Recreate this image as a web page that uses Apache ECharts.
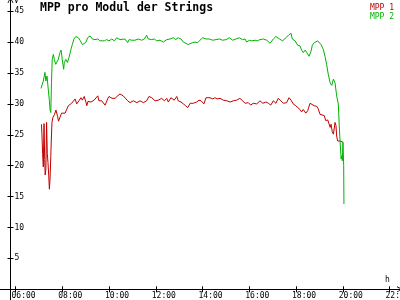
<!DOCTYPE html>
<html><head><meta charset="utf-8">
<script src="https://cdn.jsdelivr.net/npm/echarts@6/dist/echarts.min.js"></script>
<style>html,body{margin:0;padding:0;background:#fff}#c{width:400px;height:300px}</style>
</head><body><div id="c"></div>
<script>
const titleText = 'MPP pro Modul der Strings';
const seriesNames = ['MPP 1', 'MPP 2'];
const xTickHours = [6, 8, 10, 12, 14, 16, 18, 20, 22];
const yTickValues = [5, 10, 15, 20, 25, 30, 35, 40, 45];
const yUnit = 'V';
const xUnit = 'h';

// time in decimal hours
const timesMPP1 = [7.11,7.13,7.16,7.19,7.22,7.25,7.27,7.30,7.33,7.36,7.39,7.42,7.45,7.48,7.51,7.53,7.56,7.60,7.67,7.73,7.80,7.84,7.90,7.97,8.04,8.12,8.19,8.26,8.33,8.40,8.47,8.55,8.62,8.67,8.73,8.80,8.86,8.94,9.02,9.05,9.10,9.16,9.23,9.29,9.36,9.42,9.52,9.57,9.62,9.69,9.76,9.83,9.89,9.94,10.00,10.06,10.13,10.18,10.26,10.37,10.47,
10.61,10.68,10.80,10.90,11.04,11.19,11.33,11.47,11.61,11.71,11.83,11.90,11.97,12.11,12.25,12.37,12.47,12.54,12.65,12.79,12.90,12.96,13.08,13.18,13.28,13.37,13.47,13.61,13.75,13.85,13.94,
14.01,14.06,14.15,14.21,14.32,14.44,14.53,14.63,14.75,14.89,15.04,15.18,15.32,15.46,15.60,15.72,15.82,15.96,16.06,16.17,16.32,16.46,16.58,16.72,16.82,16.92,17.03,17.14,17.24,17.35,17.46,
17.53,17.60,17.70,17.79,17.88,17.99,18.07,18.17,18.24,18.31,18.42,18.50,18.60,18.67,18.78,18.89,18.95,19.03,19.10,19.21,19.27,19.36,19.41,19.46,19.50,19.55,19.60,19.67,19.71,19.74,19.78,19.84,19.88,19.96,20.01];
const mpp1 = [26.7,25.2,22.0,19.8,26.8,21.0,18.5,19.5,27.0,22.0,20.5,18.5,16.2,18.0,21.5,24.0,27.0,27.8,28.3,29.0,28.0,27.2,27.8,28.5,28.6,28.5,28.4,29.7,29.9,30.1,30.3,30.8,30.0,30.3,30.6,31.0,30.6,31.2,30.2,29.7,30.4,30.5,30.3,30.1,30.6,30.3,31.3,30.5,30.2,30.5,30.6,29.8,30.3,30.8,31.2,31.2,30.9,31.0,30.9,31.3,31.6,
31.3,31.0,30.5,30.2,30.5,30.2,30.5,30.2,30.5,31.2,31.0,31.3,30.5,30.6,30.9,30.5,30.9,30.3,31.0,30.6,31.2,30.5,30.3,30.0,29.7,29.4,30.1,30.1,30.3,30.6,30.5,
30.5,30.0,31.0,31.3,31.0,30.8,31.0,30.8,30.9,30.6,30.5,30.3,30.5,30.6,30.9,30.5,30.1,30.2,29.8,30.1,30.0,30.5,30.1,30.3,30.1,29.8,30.5,30.1,30.9,30.5,30.1,
30.1,30.2,31.0,30.6,30.0,29.7,29.4,29.1,28.7,29.1,28.5,28.9,30.1,29.8,29.7,29.6,29.2,28.3,28.0,28.1,27.3,27.4,27.3,26.2,26.7,25.5,25.1,27.0,26.5,24.8,24.0,24.3,24.0,23.9,23.8];

const timesMPP2 = [7.09,7.19,7.26,7.30,7.35,7.38,7.45,7.48,7.51,7.54,7.57,7.62,7.66,7.72,7.76,7.83,7.90,7.95,8.00,8.06,8.09,8.15,8.22,8.29,8.37,8.43,8.50,8.58,8.69,8.76,8.86,8.93,9.00,9.09,9.19,9.29,9.40,9.52,9.62,9.69,9.80,9.90,10.00,10.12,10.23,10.33,10.40,10.47,
10.68,10.80,10.86,10.97,11.11,11.25,11.40,11.51,11.61,11.68,11.83,11.94,12.04,12.18,12.32,12.47,12.61,12.75,12.85,12.96,13.08,13.18,13.25,13.39,13.47,13.56,13.68,13.79,13.89,
14.01,14.15,14.29,14.44,14.58,14.72,14.86,15.01,15.15,15.29,15.43,15.57,15.72,15.82,15.89,16.00,16.10,16.25,16.34,16.46,16.60,16.75,16.89,17.03,17.14,17.29,17.43,17.57,
17.70,17.79,17.84,17.96,18.07,18.17,18.24,18.31,18.39,18.46,18.56,18.64,18.70,18.78,18.84,18.93,18.98,19.07,19.17,19.24,19.31,19.38,19.46,19.53,19.60,19.67,19.74,19.81,19.85,19.88,19.93,19.96,19.98,20.01,20.04,20.05];
const mpp2 = [32.5,33.7,35.1,33.7,34.5,33.2,30.5,29.0,28.6,33.5,37.2,38.0,37.2,36.4,36.1,37.2,38.3,38.7,37.2,35.6,36.7,37.2,36.7,37.5,38.8,39.6,40.5,40.9,40.7,40.3,39.6,39.3,39.9,40.7,41.0,40.5,40.4,40.5,40.2,40.5,40.2,40.4,40.2,40.5,40.2,40.7,41.0,40.4,
40.5,39.9,40.4,40.3,40.3,40.5,40.3,40.5,41.1,40.5,40.4,40.5,40.2,40.3,40.0,40.4,40.5,40.7,40.4,40.7,40.5,40.0,39.9,39.6,39.4,39.9,40.0,39.9,40.3,
40.7,40.5,40.5,40.3,40.4,40.5,40.3,40.4,40.7,40.3,40.5,40.7,40.4,40.5,40.0,40.3,40.2,40.3,40.2,40.4,40.5,40.3,39.8,40.5,40.9,40.5,40.2,40.7,
41.2,41.4,40.5,40.2,39.5,39.4,38.7,38.3,38.7,38.3,37.7,38.5,39.5,39.9,39.6,40.2,40.3,39.6,38.8,37.7,36.4,34.8,33.4,33.0,34.0,33.4,31.3,30.0,26.5,24.3,21.1,21.6,20.8,23.8,20.0,13.8];

const pairs = (t, v) => t.map((x, i) => [x, v[i]]);
const pad2 = n => (n < 10 ? '0' : '') + n;
const colors = ['#c00000', '#00b400'];
const FONT = 'DejaVu Sans Mono';

const xMin = 5.337, xMax = 22.449;
const yMin = 0, yMax = 46.81;
const labelShift = 0.171; // x labels start slightly left of tick

const chevron = 'path://M0,10 L5,0 L10,10 L8.6,10 L5,2.8 L1.4,10 Z';
const tickStyle = {color: '#000', width: 1};

const chart = echarts.init(document.getElementById('c'), null, {renderer: 'canvas'});
chart.setOption({
  animation: false,
  backgroundColor: '#ffffff',
  title: {
    text: titleText, left: 40, top: 2, padding: 0,
    textStyle: {fontFamily: FONT, fontWeight: 'bold', fontSize: 11.5, color: '#000'}
  },
  legend: {
    data: [
      {name: seriesNames[0], textStyle: {color: colors[0]}},
      {name: seriesNames[1], textStyle: {color: colors[1]}}
    ],
    orient: 'vertical', right: 6, top: 4, padding: 0, itemGap: 0,
    itemWidth: 0, itemHeight: 0, align: 'left', icon: 'rect',
    textStyle: {fontFamily: FONT, fontSize: 8, lineHeight: 8.4, padding: [0, 0, 0, -5]},
    selectedMode: false
  },
  grid: [
    {left: 0, right: 0, top: 0, bottom: 10.7, containLabel: false, outerBoundsMode: 'none'},
    {left: 0, right: 0, top: 0, bottom: 0, containLabel: false, outerBoundsMode: 'none'}
  ],
  xAxis: [{
    type: 'value', min: xMin, max: xMax, gridIndex: 0, position: 'bottom',
    axisLine: {onZero: false, symbol: ['none', chevron], symbolSize: [7, 6], lineStyle: {color: '#000', width: 1}},
    axisTick: {show: true, length: 3, customValues: xTickHours, lineStyle: tickStyle},
    axisLabel: {
      show: true, customValues: xTickHours.map(h => h - labelShift), align: 'left', margin: 3,
      fontFamily: FONT, fontSize: 8, color: '#000',
      formatter: v => pad2(Math.round(v + labelShift)) + ':00'
    },
    splitLine: {show: false}
  }, {
    type: 'value', min: xMin, max: xMax, gridIndex: 0, position: 'bottom',
    axisLine: {onZero: false, show: false},
    axisTick: {show: true, inside: true, length: 3, customValues: xTickHours, lineStyle: tickStyle},
    axisLabel: {show: false}, splitLine: {show: false}
  }, {
    type: 'value', min: xMin, max: xMax, gridIndex: 1, show: false
  }],
  yAxis: [{
    type: 'value', min: yMin, max: yMax, gridIndex: 0, position: 'left', offset: -10.5,
    axisLine: {show: true, onZero: false, symbol: ['none', chevron], symbolSize: [7, 6], lineStyle: {color: '#000', width: 1}},
    axisTick: {show: true, length: 3, customValues: yTickValues, lineStyle: tickStyle},
    axisLabel: {show: true, inside: true, margin: 4, customValues: yTickValues,
      fontFamily: FONT, fontSize: 8, color: '#000'},
    splitLine: {show: false}
  }, {
    type: 'value', min: yMin, max: yMax, gridIndex: 0, position: 'left', offset: -10.5,
    axisLine: {show: false, onZero: false},
    axisTick: {show: true, inside: true, length: 3, customValues: yTickValues, lineStyle: tickStyle},
    axisLabel: {show: false}, splitLine: {show: false}
  }, {
    type: 'value', min: 0, max: 1, gridIndex: 1, position: 'left', offset: -10.5,
    axisLine: {show: true, onZero: false, lineStyle: {color: '#000', width: 1}},
    axisTick: {show: false}, axisLabel: {show: false}, splitLine: {show: false}
  }],
  graphic: [
    {type: 'text', left: 14, top: -3, style: {text: yUnit, font: '8px "DejaVu Sans Mono"', fill: '#000'}},
    {type: 'text', left: 385, top: 276, style: {text: xUnit, font: '8px "DejaVu Sans Mono"', fill: '#000'}}
  ],
  series: [
    {name: seriesNames[0], type: 'line', data: pairs(timesMPP1, mpp1), showSymbol: false,
     lineStyle: {color: colors[0], width: 1}, itemStyle: {color: colors[0]}},
    {name: seriesNames[1], type: 'line', data: pairs(timesMPP2, mpp2), showSymbol: false,
     lineStyle: {color: colors[1], width: 1}, itemStyle: {color: colors[1]}}
  ]
});
</script></body></html>
